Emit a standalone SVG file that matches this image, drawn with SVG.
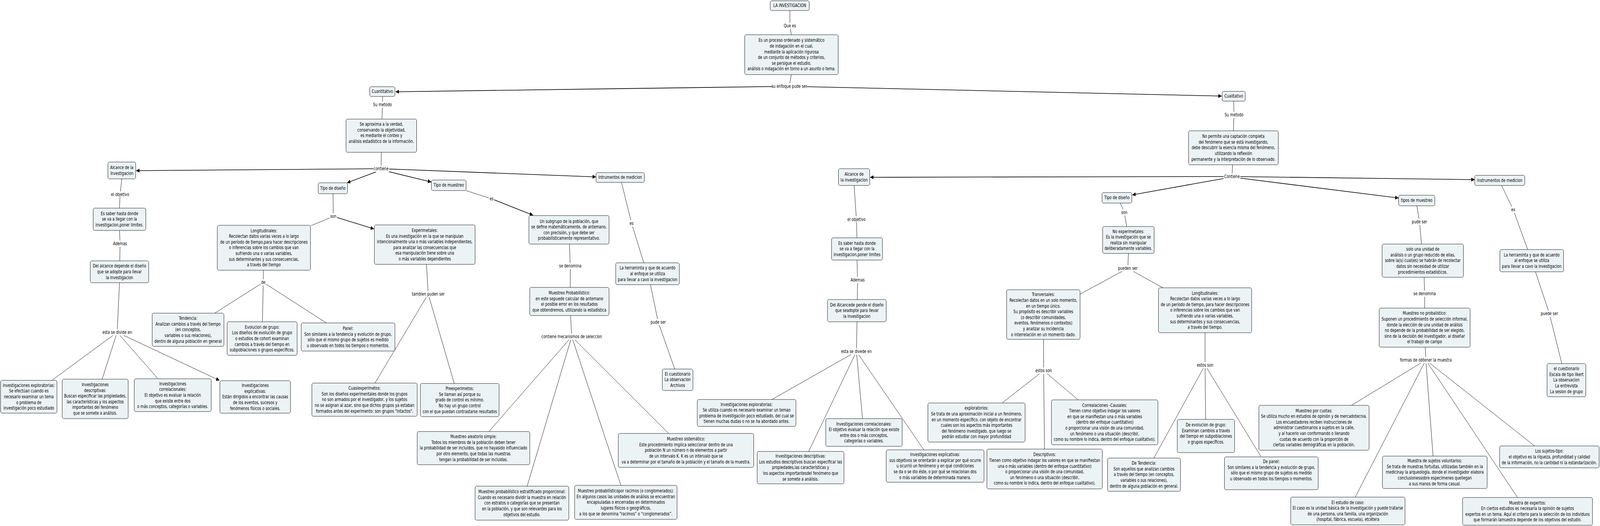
<svg xmlns="http://www.w3.org/2000/svg" width="5530" height="1347" viewBox="0 0 5530 1347" preserveAspectRatio="none">
<style>
svg{width:100vw;height:100vh;display:block}
.bg{fill:#ffffff}
.n rect{fill:#ecf3f5;stroke:#000;stroke-width:1}
text{font-family:"DejaVu Sans",Verdana,"Liberation Sans",sans-serif;font-size:12px;fill:#000;text-anchor:middle}
.c line,.c polyline{stroke:#000;stroke-width:1;fill:none}
.c .a{stroke-width:1.6}
.lb rect{fill:#ffffff}
</style>
<defs>
<marker id="ar" markerUnits="userSpaceOnUse" markerWidth="12" markerHeight="10" refX="11" refY="5" orient="auto">
<path d="M0,0 L12,5 L0,10 z" fill="#000"/>
</marker>
</defs>
<rect class="bg" x="0" y="0" width="5530" height="1347"/>
<g id="connectors" class="c">
<polyline points="2730,27 2730,66 2735,89"/>
<line x1="2735" y1="191" x2="2728" y2="221"/>
<line class="a" x1="2728" y1="221" x2="1368" y2="235" marker-end="url(#ar)"/>
<line class="a" x1="2728" y1="221" x2="4222" y2="246" marker-end="url(#ar)"/>
<polyline points="1322,247 1322,268 1320,305"/>
<line x1="1318" y1="390" x2="1317" y2="432"/>
<line class="a" x1="1317" y1="432" x2="471" y2="437" marker-end="url(#ar)"/>
<line class="a" x1="1300" y1="440" x2="1200" y2="468" marker-end="url(#ar)"/>
<line class="a" x1="1335" y1="438" x2="1490" y2="466" marker-end="url(#ar)"/>
<line class="a" x1="1317" y1="432" x2="2059" y2="453" marker-end="url(#ar)"/>
<polyline points="421,458 415,498 413,533"/>
<polyline points="413,590 415,624 414,668"/>
<line x1="413" y1="724" x2="405" y2="851"/>
<line x1="405" y1="851" x2="181" y2="973"/>
<line x1="405" y1="851" x2="353" y2="971"/>
<line x1="405" y1="851" x2="545" y2="969"/>
<line x1="405" y1="851" x2="758" y2="974" marker-end="url(#ar)"/>
<line x1="1151" y1="496" x2="1152" y2="554"/>
<line x1="1152" y1="554" x2="1075" y2="578"/>
<line class="a" x1="1152" y1="554" x2="1292" y2="586" marker-end="url(#ar)"/>
<line x1="910" y1="692" x2="910" y2="723"/>
<line x1="910" y1="723" x2="742" y2="802"/>
<line x1="910" y1="723" x2="907" y2="824"/>
<line x1="910" y1="723" x2="1128" y2="827"/>
<line x1="1474" y1="677" x2="1480" y2="753"/>
<line x1="1480" y1="753" x2="1296" y2="981"/>
<line x1="1480" y1="753" x2="1570" y2="982"/>
<line x1="1610" y1="488" x2="1699" y2="509"/>
<line class="a" x1="1699" y1="509" x2="1842" y2="551" marker-end="url(#ar)"/>
<polyline points="1968,625 1971,681 1971,736"/>
<line x1="1972" y1="808" x2="1976" y2="862"/>
<line x1="1976" y1="862" x2="1690" y2="1105"/>
<line x1="1976" y1="862" x2="1822" y2="1245"/>
<line x1="1976" y1="862" x2="2146" y2="1243"/>
<line x1="1976" y1="862" x2="2311" y2="1110"/>
<polyline points="2148,467 2183,572 2225,673"/>
<polyline points="2248,729 2275,825 2332,945"/>
<polyline points="4264,259 4265,294 4263,335"/>
<line x1="4260" y1="422" x2="4258" y2="452"/>
<line class="a" x1="4258" y1="452" x2="3008" y2="454" marker-end="url(#ar)"/>
<line class="a" x1="4230" y1="457" x2="3914" y2="499" marker-end="url(#ar)"/>
<line class="a" x1="4285" y1="456" x2="4833" y2="507" marker-end="url(#ar)"/>
<line class="a" x1="4258" y1="452" x2="5096" y2="460" marker-end="url(#ar)"/>
<polyline points="2952,475 2960,562 2962,609"/>
<polyline points="2962,666 2964,717 2963,767"/>
<line x1="2962" y1="824" x2="2960" y2="900"/>
<line x1="2960" y1="900" x2="2668" y2="1023"/>
<line x1="2960" y1="900" x2="2795" y2="1156"/>
<line x1="2960" y1="900" x2="2981" y2="1072"/>
<line x1="2960" y1="900" x2="3193" y2="1152"/>
<polyline points="3872,520 3886,544 3894,580"/>
<line x1="3900" y1="649" x2="3898" y2="687"/>
<line x1="3898" y1="687" x2="3731" y2="754"/>
<line x1="3898" y1="687" x2="4019" y2="737"/>
<line x1="3607" y1="869" x2="3607" y2="949"/>
<line x1="3607" y1="949" x2="3465" y2="1031"/>
<line x1="3607" y1="949" x2="3610" y2="1150"/>
<line x1="3607" y1="949" x2="3726" y2="1024"/>
<line x1="4165" y1="852" x2="4165" y2="935"/>
<line x1="4165" y1="935" x2="3988" y2="1173"/>
<line x1="4165" y1="935" x2="4167" y2="1074"/>
<line x1="4165" y1="935" x2="4358" y2="1169"/>
<polyline points="4897,527 4906,568 4913,625"/>
<polyline points="4922,710 4924,752 4924,789"/>
<line x1="4926" y1="889" x2="4928" y2="922"/>
<line x1="4928" y1="922" x2="4671" y2="1038"/>
<line x1="4928" y1="922" x2="4684" y2="1273"/>
<line x1="4928" y1="922" x2="4953" y2="1168"/>
<line x1="4928" y1="922" x2="5245" y2="1274"/>
<line x1="4928" y1="922" x2="5304" y2="1142"/>
<polyline points="5190,475 5230,537 5280,639"/>
<polyline points="5307,696 5355,803 5398,931"/>
</g>
<g id="labels" class="lb">
<rect x="2708" y="58" width="43" height="16"/><text x="2730" y="70">Que es</text>
<rect x="2668" y="213" width="120" height="16"/><text x="2728" y="225">su enfoque pude ser</text>
<rect x="1291" y="260" width="62" height="16"/><text x="1322" y="272">Su metodo</text>
<rect x="1290" y="424" width="55" height="16"/><text x="1317" y="436">contiene</text>
<rect x="382" y="490" width="66" height="16"/><text x="415" y="502">el objetivo</text>
<rect x="392" y="616" width="46" height="16"/><text x="415" y="628">Ademas</text>
<rect x="355" y="843" width="100" height="16"/><text x="405" y="855">esta se divide en</text>
<rect x="1139" y="546" width="26" height="16"/><text x="1152" y="558">son</text>
<rect x="901" y="715" width="18" height="16"/><text x="910" y="727">de</text>
<rect x="1426" y="745" width="108" height="16"/><text x="1480" y="757">tambien puden ser</text>
<rect x="1690" y="501" width="18" height="16"/><text x="1699" y="513">es</text>
<rect x="1934" y="673" width="74" height="16"/><text x="1971" y="685">se denomina</text>
<rect x="1878" y="854" width="196" height="16"/><text x="1976" y="866">contiene mecanismos de seleccion</text>
<rect x="2174" y="564" width="18" height="16"/><text x="2183" y="576">es</text>
<rect x="2248" y="817" width="54" height="16"/><text x="2275" y="829">pude ser</text>
<rect x="4234" y="286" width="62" height="16"/><text x="4265" y="298">Su metodo</text>
<rect x="4229" y="444" width="58" height="16"/><text x="4258" y="456">Contiene</text>
<rect x="2927" y="554" width="66" height="16"/><text x="2960" y="566">el objetivo</text>
<rect x="2941" y="709" width="46" height="16"/><text x="2964" y="721">Ademas</text>
<rect x="2909" y="892" width="102" height="16"/><text x="2960" y="904">esta se divede en</text>
<rect x="3873" y="536" width="26" height="16"/><text x="3886" y="548">son</text>
<rect x="3864" y="679" width="68" height="16"/><text x="3898" y="691">pueden ser</text>
<rect x="3577" y="941" width="60" height="16"/><text x="3607" y="953">estos son</text>
<rect x="4135" y="927" width="60" height="16"/><text x="4165" y="939">estos son</text>
<rect x="4879" y="560" width="54" height="16"/><text x="4906" y="572">pude ser</text>
<rect x="4887" y="744" width="74" height="16"/><text x="4924" y="756">se denomina</text>
<rect x="4843" y="914" width="170" height="16"/><text x="4928" y="926">formas de obtener la muestra</text>
<rect x="5221" y="529" width="18" height="16"/><text x="5230" y="541">es</text>
<rect x="5324" y="795" width="62" height="16"/><text x="5355" y="807">puede ser</text>
</g>
<g id="n_investigacion" class="n"><rect x="2662" y="2" width="135" height="25" rx="5"/><text x="2729.5" y="18.5">LA INVESTIGACION</text></g>
<g id="n_proceso" class="n"><rect x="2574" y="89" width="323" height="102" rx="5"/><text x="2735.5" y="107.5"><tspan x="2735.5">Es un proceso ordenado y sistemático</tspan><tspan x="2735.5" dy="14.6">de indagación en el cual,</tspan><tspan x="2735.5" dy="14.6">mediante la aplicación rigurosa</tspan><tspan x="2735.5" dy="14.6">de un conjunto de métodos y criterios,</tspan><tspan x="2735.5" dy="14.6">se persigue el estudio,</tspan><tspan x="2735.5" dy="14.6">análisis o indagación en torno a un asunto o tema.</tspan></text></g>
<g id="n_cuantitativo" class="n"><rect x="1278" y="222" width="87" height="25" rx="5"/><text x="1321.5" y="238.5">Cuantitativo</text></g>
<g id="n_cualitativo" class="n"><rect x="4224" y="234" width="80" height="25" rx="5"/><text x="4264" y="250.5">Cualitativo</text></g>
<g id="n_aproxima" class="n"><rect x="1196" y="305" width="244" height="85" rx="5"/><text x="1318" y="322"><tspan x="1318">Se aproxima a la verdad,</tspan><tspan x="1318" dy="14.6">conservando la objetividad,</tspan><tspan x="1318" dy="14.6">es mediante el conteo y</tspan><tspan x="1318" dy="14.6">análisis estadístico de la información.</tspan></text></g>
<g id="n_alcance_l" class="n"><rect x="373" y="415" width="96" height="43" rx="5"/><text x="421" y="433.2"><tspan x="421">Alcance de la</tspan><tspan x="421" dy="14.6">investigacion</tspan></text></g>
<g id="n_saber_l" class="n"><rect x="322" y="533" width="182" height="57" rx="5"/><text x="413" y="550.9"><tspan x="413">Es saber hasta donde</tspan><tspan x="413" dy="14.6">se va a llegar con la</tspan><tspan x="413" dy="14.6">investigacion,poner limites.</tspan></text></g>
<g id="n_del_l" class="n"><rect x="312" y="668" width="202" height="56" rx="5"/><text x="413" y="685.4"><tspan x="413">Del alcance depende el diseño</tspan><tspan x="413" dy="14.6">que se adopte para llevar</tspan><tspan x="413" dy="14.6">la investigacion</tspan></text></g>
<g id="n_explo_l" class="n"><rect x="2" y="974" width="195" height="84" rx="5"/><text x="99.5" y="990.8"><tspan x="99.5">investigaciones exploratorias:</tspan><tspan x="99.5" dy="14.6">Se efectúan cuando es</tspan><tspan x="99.5" dy="14.6">necesario examinar un tema</tspan><tspan x="99.5" dy="14.6">o problema de</tspan><tspan x="99.5" dy="14.6">investigación poco estudiado</tspan></text></g>
<g id="n_desc_l" class="n"><rect x="215" y="971" width="228" height="101" rx="5"/><text x="329" y="989"><tspan x="329">Investigaciones</tspan><tspan x="329" dy="14.6">descriptivas:</tspan><tspan x="329" dy="14.6">Buscan especificar las propiedades,</tspan><tspan x="329" dy="14.6">las características y los aspectos</tspan><tspan x="329" dy="14.6">importantes del fenómeno</tspan><tspan x="329" dy="14.6">que se somete a análisis.</tspan></text></g>
<g id="n_correl_l" class="n"><rect x="464" y="970" width="266" height="84" rx="5"/><text x="597" y="986.8"><tspan x="597">Investigaciones</tspan><tspan x="597" dy="14.6">correlacionales:</tspan><tspan x="597" dy="14.6">El objetivo es evaluar la relación</tspan><tspan x="597" dy="14.6">que existe entre dos</tspan><tspan x="597" dy="14.6">o más conceptos, categorías o variables.</tspan></text></g>
<g id="n_explic_l" class="n"><rect x="760" y="975" width="244" height="83" rx="5"/><text x="882" y="991.3"><tspan x="882">Investigaciones</tspan><tspan x="882" dy="14.6">explicativas:</tspan><tspan x="882" dy="14.6">Están dirigidos a encontrar las causas</tspan><tspan x="882" dy="14.6">de los eventos, sucesos y</tspan><tspan x="882" dy="14.6">fenómenos físicos o sociales.</tspan></text></g>
<g id="n_tipodis_l" class="n"><rect x="1100" y="468" width="101" height="28" rx="5"/><text x="1150.5" y="486">Tipo de diseño</text></g>
<g id="n_long_l" class="n"><rect x="751" y="577" width="322" height="115" rx="5"/><text x="912" y="594.7"><tspan x="912">Longitudinales:</tspan><tspan x="912" dy="14.6">Recolectan datos varias veces a lo largo</tspan><tspan x="912" dy="14.6">de un período de tiempo,para hacer descripciones</tspan><tspan x="912" dy="14.6">o inferencias sobre los cambios que van</tspan><tspan x="912" dy="14.6">sufriendo una o varias variables,</tspan><tspan x="912" dy="14.6">sus determinantes y sus consecuencias,</tspan><tspan x="912" dy="14.6">a través del tiempo</tspan></text></g>
<g id="n_tend_l" class="n"><rect x="526" y="802" width="248" height="85" rx="5"/><text x="650" y="819.3"><tspan x="650">Tendencia:</tspan><tspan x="650" dy="14.6">Analizan cambios a través del tiempo</tspan><tspan x="650" dy="14.6">(en conceptos,</tspan><tspan x="650" dy="14.6">variables o sus relaciones),</tspan><tspan x="650" dy="14.6">dentro de alguna población en general</tspan></text></g>
<g id="n_evol_l" class="n"><rect x="785" y="824" width="242" height="86" rx="5"/><text x="906" y="841.8"><tspan x="906">Evolucion de grupo:</tspan><tspan x="906" dy="14.6">Los diseños de evolución de grupo</tspan><tspan x="906" dy="14.6">o estudios de cohort examinan</tspan><tspan x="906" dy="14.6">cambios a través del tiempo en</tspan><tspan x="906" dy="14.6">subpoblaciones o grupos específicos.</tspan></text></g>
<g id="n_panel_l" class="n"><rect x="1041" y="827" width="324" height="72" rx="5"/><text x="1203" y="845.1"><tspan x="1203">Panel:</tspan><tspan x="1203" dy="14.6">Son similares a la tendencia y evolución de grupo,</tspan><tspan x="1203" dy="14.6">sólo que el mismo grupo de sujetos es medido</tspan><tspan x="1203" dy="14.6">u observado en todos los tiempos o momentos.</tspan></text></g>
<g id="n_exper" class="n"><rect x="1294" y="576" width="348" height="101" rx="5"/><text x="1468" y="594"><tspan x="1468">Experimetales:</tspan><tspan x="1468" dy="14.6">Es una investigación en la que se manipulan</tspan><tspan x="1468" dy="14.6">intencionalmente una o más variables independientes,</tspan><tspan x="1468" dy="14.6">para analizar las consecuencias que</tspan><tspan x="1468" dy="14.6">esa manipulación tiene sobre una</tspan><tspan x="1468" dy="14.6">o más variables dependientes</tspan></text></g>
<g id="n_cuasi" class="n"><rect x="1078" y="981" width="364" height="85" rx="5"/><text x="1260" y="998.3"><tspan x="1260">Cuasiexperimetos:</tspan><tspan x="1260" dy="14.6">Son los diseños experimentales donde los grupos</tspan><tspan x="1260" dy="14.6">no son armados por el investigador, y los sujetos</tspan><tspan x="1260" dy="14.6">no se asignan al azar, sino que dichos grupos ya estaban</tspan><tspan x="1260" dy="14.6">formados antes del experimento: son grupos "intactos".</tspan></text></g>
<g id="n_preexp" class="n"><rect x="1453" y="982" width="272" height="85" rx="5"/><text x="1589" y="999.3"><tspan x="1589">Preexperimetos:</tspan><tspan x="1589" dy="14.6">Se llaman así porque su</tspan><tspan x="1589" dy="14.6">grado de control es mínimo.</tspan><tspan x="1589" dy="14.6">No hay un grupo control</tspan><tspan x="1589" dy="14.6">con el que puedan contrastarse resultados</tspan></text></g>
<g id="n_tipomue_l" class="n"><rect x="1491" y="461" width="120" height="27" rx="5"/><text x="1551" y="478.5">Tipo de muestreo</text></g>
<g id="n_subgrupo" class="n"><rect x="1828" y="552" width="277" height="73" rx="5"/><text x="1966.5" y="570.6"><tspan x="1966.5">Un subgrupo de la población, que</tspan><tspan x="1966.5" dy="14.6">se define matemáticamente, de antemano,</tspan><tspan x="1966.5" dy="14.6">con precisión, y que debe ser</tspan><tspan x="1966.5" dy="14.6">probabilísticamente representativo.</tspan></text></g>
<g id="n_probab" class="n"><rect x="1831" y="736" width="274" height="72" rx="5"/><text x="1968" y="754.1"><tspan x="1968">Muestreo Probabilístico:</tspan><tspan x="1968" dy="14.6">en este sepuede calcular de antemano</tspan><tspan x="1968" dy="14.6">el posible error en los resultados</tspan><tspan x="1968" dy="14.6">que obtendremos, utilizando la estadística</tspan></text></g>
<g id="n_aleat" class="n"><rect x="1442" y="1105" width="389" height="85" rx="5"/><text x="1636.5" y="1122.3"><tspan x="1636.5">Muestreo aleatorio simple:</tspan><tspan x="1636.5" dy="14.6">Todos los miembros de la población deben tener</tspan><tspan x="1636.5" dy="14.6">la probabilidad de ser incluidos, que no hayasido influenciado</tspan><tspan x="1636.5" dy="14.6">por otro elemento, que todas las muestras</tspan><tspan x="1636.5" dy="14.6">tengan la probabilidad de ser incluidas.</tspan></text></g>
<g id="n_sistem" class="n"><rect x="2137" y="1110" width="468" height="87" rx="5"/><text x="2371" y="1128.3"><tspan x="2371">Muestreo sistemático:</tspan><tspan x="2371" dy="14.6">Este procedimiento implica seleccionar dentro de una</tspan><tspan x="2371" dy="14.6">población N un número n de elementos a partir</tspan><tspan x="2371" dy="14.6">de un intervalo K. K es un intervalo que se</tspan><tspan x="2371" dy="14.6">va a determinar por el tamaño de la población y el tamaño de la muestra.</tspan></text></g>
<g id="n_estrat" class="n"><rect x="1642" y="1245" width="324" height="87" rx="5"/><text x="1804" y="1263.3"><tspan x="1804">Muestreo probabilístico estratificado proporcional:</tspan><tspan x="1804" dy="14.6">Cuando es necesario dividir la muestra en relación</tspan><tspan x="1804" dy="14.6">con estratos o categorías que se presentan</tspan><tspan x="1804" dy="14.6">en la población, y que son relevantes para los</tspan><tspan x="1804" dy="14.6">objetivos del estudio.</tspan></text></g>
<g id="n_racimos" class="n"><rect x="1986" y="1243" width="354" height="87" rx="5"/><text x="2163" y="1261.3"><tspan x="2163">Muestreo probabilísticopor racimos (o conglomerados):</tspan><tspan x="2163" dy="14.6">En algunos casos las unidades de análisis se encuentran</tspan><tspan x="2163" dy="14.6">encapsuladas o encerradas en determinados</tspan><tspan x="2163" dy="14.6">lugares físicos o geográficos,</tspan><tspan x="2163" dy="14.6">a los que se denomina “racimos” o “conglomerados”.</tspan></text></g>
<g id="n_instr_l" class="n"><rect x="2060" y="442" width="167" height="25" rx="5"/><text x="2143.5" y="458.5">Intrumentos de medicion</text></g>
<g id="n_herr_l" class="n"><rect x="2128" y="673" width="220" height="56" rx="5"/><text x="2238" y="690.4"><tspan x="2238">La herraminta y que de acuerdo</tspan><tspan x="2238" dy="14.6">al enfoque se utiliza</tspan><tspan x="2238" dy="14.6">para llevar a cavo la investigacion</tspan></text></g>
<g id="n_cuest_l" class="n"><rect x="2289" y="945" width="106" height="55" rx="5"/><text x="2342" y="961.9"><tspan x="2342">El cuestionario</tspan><tspan x="2342" dy="14.6">La observacion</tspan><tspan x="2342" dy="14.6">Archivos</tspan></text></g>
<g id="n_nopermite" class="n"><rect x="4108" y="335" width="310" height="87" rx="5"/><text x="4263" y="353.3"><tspan x="4263">No permite una captación completa</tspan><tspan x="4263" dy="14.6">del fenómeno que se está investigando,</tspan><tspan x="4263" dy="14.6">debe descubrir la esencia misma del fenómeno,</tspan><tspan x="4263" dy="14.6">utilizando la reflexión</tspan><tspan x="4263" dy="14.6">permanente y la interpretación de lo observado.</tspan></text></g>
<g id="n_alcance_r" class="n"><rect x="2898" y="432" width="108" height="43" rx="5"/><text x="2952" y="450.2"><tspan x="2952">Alcance de</tspan><tspan x="2952" dy="14.6">la investigacion</tspan></text></g>
<g id="n_saber_r" class="n"><rect x="2874" y="609" width="176" height="57" rx="5"/><text x="2962" y="626.9"><tspan x="2962">Es saber hasta donde</tspan><tspan x="2962" dy="14.6">se va a llegar con la</tspan><tspan x="2962" dy="14.6">investigacion,poner limites</tspan></text></g>
<g id="n_del_r" class="n"><rect x="2860" y="767" width="203" height="57" rx="5"/><text x="2961.5" y="784.9"><tspan x="2961.5">Del Alcancede pende el diseño</tspan><tspan x="2961.5" dy="14.6">que seadopte para llevar</tspan><tspan x="2961.5" dy="14.6">la investigacion</tspan></text></g>
<g id="n_explo_r" class="n"><rect x="2410" y="1023" width="341" height="69" rx="5"/><text x="2580.5" y="1039.6"><tspan x="2580.5">Investigaciones exploratorias:</tspan><tspan x="2580.5" dy="14.6">Se utiliza cuando es necesario examinar un temao</tspan><tspan x="2580.5" dy="14.6">problema de investigación poco estudiado, del cual se</tspan><tspan x="2580.5" dy="14.6">tienen muchas dudas o no se ha abordado antes.</tspan></text></g>
<g id="n_correl_r" class="n"><rect x="2854" y="1072" width="264" height="71" rx="5"/><text x="2986" y="1089.6"><tspan x="2986">Investigaciones correlacionales:</tspan><tspan x="2986" dy="14.6">El objetivo evaluar la relación que existe</tspan><tspan x="2986" dy="14.6">entre dos o más conceptos,</tspan><tspan x="2986" dy="14.6">categorías o variables.</tspan></text></g>
<g id="n_desc_r" class="n"><rect x="2617" y="1156" width="300" height="83" rx="5"/><text x="2767" y="1172.3"><tspan x="2767">Investigaciones descriptivas:</tspan><tspan x="2767" dy="14.6">Los estudios descriptivos buscan especificar las</tspan><tspan x="2767" dy="14.6">propiedades,las características y</tspan><tspan x="2767" dy="14.6">los aspectos importantesdel fenómeno que</tspan><tspan x="2767" dy="14.6">se somete a análisis.</tspan></text></g>
<g id="n_explic_r" class="n"><rect x="3063" y="1152" width="338" height="83" rx="5"/><text x="3232" y="1168.3"><tspan x="3232">Investigaciones explicativas:</tspan><tspan x="3232" dy="14.6">sus objetivos se orientarán a explicar por qué ocurre</tspan><tspan x="3232" dy="14.6">u ocurrió un fenómeno y en qué condiciones</tspan><tspan x="3232" dy="14.6">se da o se dio éste, o por qué se relacionan dos</tspan><tspan x="3232" dy="14.6">o más variables de determinada manera.</tspan></text></g>
<g id="n_tipodis_r" class="n"><rect x="3809" y="493" width="103" height="27" rx="5"/><text x="3860.5" y="510.5">Tipo de diseño</text></g>
<g id="n_noexp" class="n"><rect x="3811" y="580" width="178" height="69" rx="5"/><text x="3900" y="596.6"><tspan x="3900">No experimetales:</tspan><tspan x="3900" dy="14.6">Es la investigación que se</tspan><tspan x="3900" dy="14.6">realiza sin manipular</tspan><tspan x="3900" dy="14.6">deliberadamente variables.</tspan></text></g>
<g id="n_transv" class="n"><rect x="3479" y="742" width="254" height="127" rx="5"/><text x="3606" y="758.4"><tspan x="3606">Tranversales:</tspan><tspan x="3606" dy="14.6">Recolectan datos en un solo momento,</tspan><tspan x="3606" dy="14.6">en un tiempo único.</tspan><tspan x="3606" dy="14.6">Su propósito es describir variables</tspan><tspan x="3606" dy="14.6">(o describir comunidades,</tspan><tspan x="3606" dy="14.6">eventos, fenómenos o contextos)</tspan><tspan x="3606" dy="14.6">y analizar su incidencia</tspan><tspan x="3606" dy="14.6">o interrelación en un momento dado.</tspan></text></g>
<g id="n_long_r" class="n"><rect x="4004" y="737" width="322" height="115" rx="5"/><text x="4165" y="754.7"><tspan x="4165">Longitudinales:</tspan><tspan x="4165" dy="14.6">Recolectan datos varias veces a lo largo</tspan><tspan x="4165" dy="14.6">de un período de tiempo, para hacer descripciones</tspan><tspan x="4165" dy="14.6">o inferencias sobre los cambios que van</tspan><tspan x="4165" dy="14.6">sufriendo una o varias variables,</tspan><tspan x="4165" dy="14.6">sus determinantes y sus consecuencias,</tspan><tspan x="4165" dy="14.6">a través del tiempo.</tspan></text></g>
<g id="n_exploratorios" class="n"><rect x="3207" y="1032" width="336" height="100" rx="5"/><text x="3375" y="1049.5"><tspan x="3375">exploratorios:</tspan><tspan x="3375" dy="14.6">Se trata de una aproximación inicial a un fenómeno,</tspan><tspan x="3375" dy="14.6">en un momento específico, con objeto de encontrar</tspan><tspan x="3375" dy="14.6">cuales son los aspectos más importantes</tspan><tspan x="3375" dy="14.6">del fenómeno investigado, que luego se</tspan><tspan x="3375" dy="14.6">podrán estudiar con mayor profundidad</tspan></text></g>
<g id="n_correal" class="n"><rect x="3634" y="1024" width="368" height="115" rx="5"/><text x="3818" y="1041.7"><tspan x="3818">Correalaciones -Causales:</tspan><tspan x="3818" dy="14.6">Tienen como objetivo indagar los valores</tspan><tspan x="3818" dy="14.6">en que se manifiestan una o más variables</tspan><tspan x="3818" dy="14.6">(dentro del enfoque cuantitativo)</tspan><tspan x="3818" dy="14.6">o proporcionar una visión de una comunidad,</tspan><tspan x="3818" dy="14.6">un fenómeno o una situación (describir,</tspan><tspan x="3818" dy="14.6">como su nombre lo indica, dentro del enfoque cualitativo).</tspan></text></g>
<g id="n_descriptivos" class="n"><rect x="3411" y="1150" width="399" height="102" rx="5"/><text x="3610.5" y="1168.5"><tspan x="3610.5">Descriptivos:</tspan><tspan x="3610.5" dy="14.6">Tienen como objetivo indagar los valores en que se manifiestan</tspan><tspan x="3610.5" dy="14.6">una o más variables (dentro del enfoque cuantitativo)</tspan><tspan x="3610.5" dy="14.6">o proporcionar una visión de una comunidad,</tspan><tspan x="3610.5" dy="14.6">un fenómeno o una situación (describir,</tspan><tspan x="3610.5" dy="14.6">como su nombre lo indica, dentro del enfoque cualitativo).</tspan></text></g>
<g id="n_devol" class="n"><rect x="4069" y="1074" width="198" height="85" rx="5"/><text x="4168" y="1092"><tspan x="4168">De evolucion de grupo:</tspan><tspan x="4168" dy="14.6">Examinan cambios a través</tspan><tspan x="4168" dy="14.6">del tiempo en subpoblaciones</tspan><tspan x="4168" dy="14.6">o grupos específicos.</tspan></text></g>
<g id="n_dtend" class="n"><rect x="3828" y="1173" width="252" height="85" rx="5"/><text x="3954" y="1190.3"><tspan x="3954">De Tendencia:</tspan><tspan x="3954" dy="14.6">Son aquellos que analizan cambios</tspan><tspan x="3954" dy="14.6">a través del tiempo (en conceptos,</tspan><tspan x="3954" dy="14.6">variables o sus relaciones),</tspan><tspan x="3954" dy="14.6">dentro de alguna población en general.</tspan></text></g>
<g id="n_dpanel" class="n"><rect x="4232" y="1170" width="324" height="84" rx="5"/><text x="4394" y="1186"><tspan x="4394">De panel:</tspan><tspan x="4394" dy="14.6">Son similares a la tendencia y evolución de grupo,</tspan><tspan x="4394" dy="14.6">sólo que el mismo grupo de sujetos es medido</tspan><tspan x="4394" dy="14.6">u observado en todos los tiempos o momentos.</tspan></text></g>
<g id="n_tipomue_r" class="n"><rect x="4834" y="500" width="125" height="27" rx="5"/><text x="4896.5" y="517.5">tipos de muestreo</text></g>
<g id="n_solo" class="n"><rect x="4777" y="625" width="281" height="85" rx="5"/><text x="4917.5" y="642.3"><tspan x="4917.5">solo una unidad de</tspan><tspan x="4917.5" dy="14.6">análisis o un grupo reducido de ellas,</tspan><tspan x="4917.5" dy="14.6">sobre la(s) cual(es) se habrán de recolectar</tspan><tspan x="4917.5" dy="14.6">datos sin necesidad de utilizar</tspan><tspan x="4917.5" dy="14.6">procedimientos estadísticos.</tspan></text></g>
<g id="n_noprob" class="n"><rect x="4767" y="789" width="314" height="100" rx="5"/><text x="4924" y="806.5"><tspan x="4924">Muestreo no probalistico:</tspan><tspan x="4924" dy="14.6">Suponen un procedimiento de selección informal,</tspan><tspan x="4924" dy="14.6">donde la elección de una unidad de análisis</tspan><tspan x="4924" dy="14.6">no depende de la probabilidad de ser elegido,</tspan><tspan x="4924" dy="14.6">sino de la decisión del investigador, al diseñar</tspan><tspan x="4924" dy="14.6">el trabajo de campo</tspan></text></g>
<g id="n_cuotas" class="n"><rect x="4351" y="1038" width="381" height="115" rx="5"/><text x="4541.5" y="1055.7"><tspan x="4541.5">Muestreo por cuotas:</tspan><tspan x="4541.5" dy="14.6">Se utiliza mucho en estudios de opinión y de mercadotecnia.</tspan><tspan x="4541.5" dy="14.6">Los encuestadores reciben instrucciones de</tspan><tspan x="4541.5" dy="14.6">administrar cuestionarios a sujetos en la calle,</tspan><tspan x="4541.5" dy="14.6">y al hacerlo van conformando o llenando</tspan><tspan x="4541.5" dy="14.6">cuotas de acuerdo con la proporción de</tspan><tspan x="4541.5" dy="14.6">ciertas variables demográficas en la población.</tspan></text></g>
<g id="n_volunt" class="n"><rect x="4778" y="1168" width="362" height="83" rx="5"/><text x="4959" y="1184.3"><tspan x="4959">Muestra de sujetos voluntarios:</tspan><tspan x="4959" dy="14.6">Se trata de muestras fortuitas, utilizadas también en la</tspan><tspan x="4959" dy="14.6">medicinay la arqueología, donde el investigador elabora</tspan><tspan x="4959" dy="14.6">conclusionessobre especimenes quellegan</tspan><tspan x="4959" dy="14.6">a sus manos de forma casual.</tspan></text></g>
<g id="n_caso" class="n"><rect x="4461" y="1273" width="395" height="71" rx="5"/><text x="4658.5" y="1290.6"><tspan x="4658.5">El estudio de caso:</tspan><tspan x="4658.5" dy="14.6">El caso es la unidad básica de la investigación y puede tratarse</tspan><tspan x="4658.5" dy="14.6">de una persona, una familia, una organización</tspan><tspan x="4658.5" dy="14.6">(hospital, fábrica, escuela), etcétera</tspan></text></g>
<g id="n_sujtipo" class="n"><rect x="5183" y="1142" width="344" height="56" rx="5"/><text x="5355" y="1159.4"><tspan x="5355">Los sujetos-tipo:</tspan><tspan x="5355" dy="14.6">el objetivo es la riqueza, profundidad y calidad</tspan><tspan x="5355" dy="14.6">de la información, no la cantidad ni la estandarización.</tspan></text></g>
<g id="n_expertos" class="n"><rect x="5055" y="1274" width="449" height="71" rx="5"/><text x="5279.5" y="1291.6"><tspan x="5279.5">Muestra de expertos:</tspan><tspan x="5279.5" dy="14.6">En ciertos estudios es necesaria la opinión de sujetos</tspan><tspan x="5279.5" dy="14.6">expertos en un tema. Aquí el criterio para la selección de los individuos</tspan><tspan x="5279.5" dy="14.6">que formarán lamuestra depende de los objetivos del estudio.</tspan></text></g>
<g id="n_instr_r" class="n"><rect x="5097" y="449" width="173" height="26" rx="5"/><text x="5183.5" y="466">instrumentos de medicion</text></g>
<g id="n_herr_r" class="n"><rect x="5184" y="639" width="220" height="57" rx="5"/><text x="5294" y="656.9"><tspan x="5294">La herraminta y que de acuerdo</tspan><tspan x="5294" dy="14.6">al enfoque se utiliza</tspan><tspan x="5294" dy="14.6">para llevar a cavo la investigacion</tspan></text></g>
<g id="n_cuest_r" class="n"><rect x="5347" y="931" width="134" height="85" rx="5"/><text x="5414" y="948.3"><tspan x="5414">el cuestionario</tspan><tspan x="5414" dy="14.6">Escala de tipo likert</tspan><tspan x="5414" dy="14.6">La observacion</tspan><tspan x="5414" dy="14.6">La entrevista</tspan><tspan x="5414" dy="14.6">La sesion de grupo</tspan></text></g>
</svg>
